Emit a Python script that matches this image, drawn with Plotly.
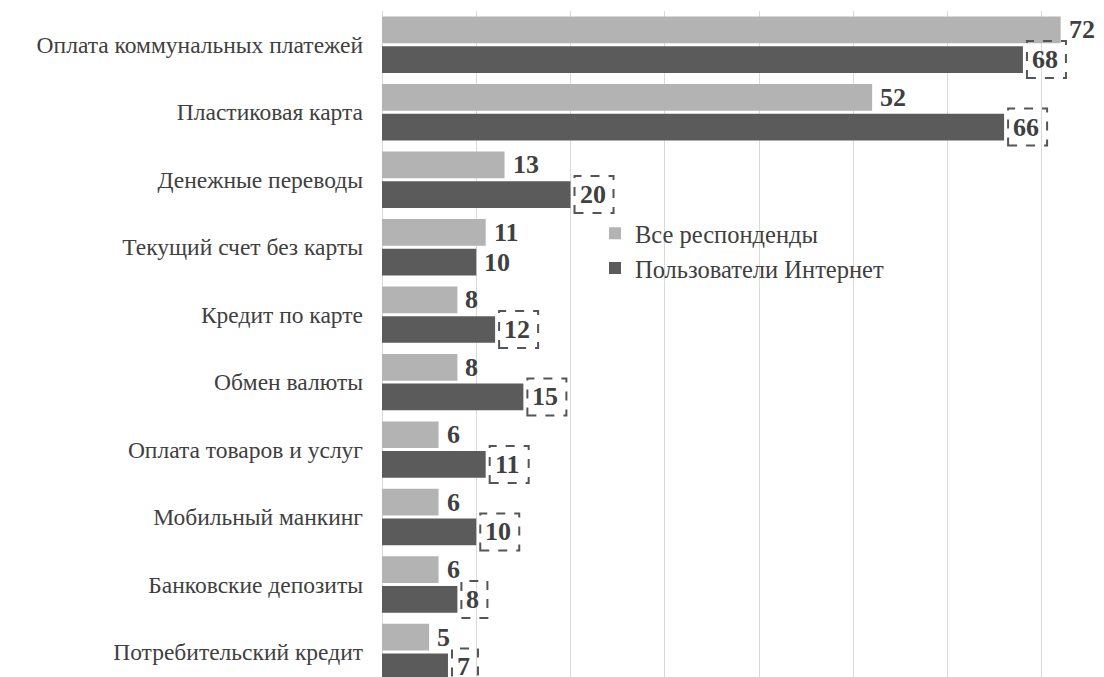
import plotly.graph_objects as go

categories = [
    "Оплата коммунальных платежей",
    "Пластиковая карта",
    "Денежные переводы",
    "Текущий счет без карты",
    "Кредит по карте",
    "Обмен валюты",
    "Оплата товаров и услуг",
    "Мобильный манкинг",
    "Банковские депозиты",
    "Потребительский кредит",
]
all_resp = [72, 52, 13, 11, 8, 8, 6, 6, 6, 5]
internet = [68, 66, 20, 10, 12, 15, 11, 10, 8, 7]
boxed = [True, True, True, False, True, True, True, True, True, True]
series_names = ["Все респонденды", "Пользователи Интернет"]

LIGHT = "#b3b3b3"
DARK = "#5b5b5b"
TXT = "#404040"
SERIF = "Liberation Serif, Times New Roman, serif"

fig = go.Figure()
fig.add_trace(go.Bar(y=categories, x=all_resp, orientation="h", name=series_names[0],
                     marker=dict(color=LIGHT, line=dict(width=0))))
fig.add_trace(go.Bar(y=categories, x=internet, orientation="h", name=series_names[1],
                     marker=dict(color=DARK, line=dict(width=0))))

half = 14.85  # pixel offset of each bar from the category centre
for cat, a, b, bx in zip(categories, all_resp, internet, boxed):
    fig.add_annotation(x=a, y=cat, text=f"<b>{a}</b>", showarrow=False, xanchor="left",
                       yanchor="middle", xshift=6, yshift=half,
                       font=dict(family=SERIF, size=26, color=TXT))
    fig.add_annotation(x=b, y=cat, text=f"<b>{b}</b>", showarrow=False, xanchor="left",
                       yanchor="middle", xshift=7 if bx else 6, yshift=-half,
                       font=dict(family=SERIF, size=26, color=TXT))
    if bx:
        w = 13 + 13 * len(str(b))
        fig.add_shape(type="rect", xref="x", yref="y", xsizemode="pixel", ysizemode="pixel",
                      xanchor=b, yanchor=cat, x0=4, x1=4 + w, y0=-half - 18.5, y1=-half + 18.5,
                      line=dict(color="#555555", width=2, dash="dash"), fillcolor="rgba(0,0,0,0)")

fig.update_layout(
    barmode="group", bargap=0.12, bargroupgap=0.1,
    width=1104, height=677,
    margin=dict(l=382, r=0, t=11, b=0),
    paper_bgcolor="white", plot_bgcolor="white",
    font=dict(family=SERIF, color=TXT),
    xaxis=dict(range=[0, 76.6], dtick=10, showticklabels=False, showgrid=True,
               gridcolor="#d9d9d9", gridwidth=1, zeroline=True, zerolinecolor="#d9d9d9",
               zerolinewidth=1, showline=False, ticks=""),
    yaxis=dict(categoryorder="array", categoryarray=categories, range=[9.37, -0.5],
               showgrid=False, showline=False, ticks="", ticklabelstandoff=18,
               tickfont=dict(family=SERIF, size=23.5, color=TXT)),
    legend=dict(x=0.295, y=0.7, xanchor="left", yanchor="top", bgcolor="rgba(0,0,0,0)",
                font=dict(family=SERIF, size=24.5, color=TXT), itemwidth=30,
                tracegroupgap=0),
    showlegend=True,
)

fig.write_html("out.html")
